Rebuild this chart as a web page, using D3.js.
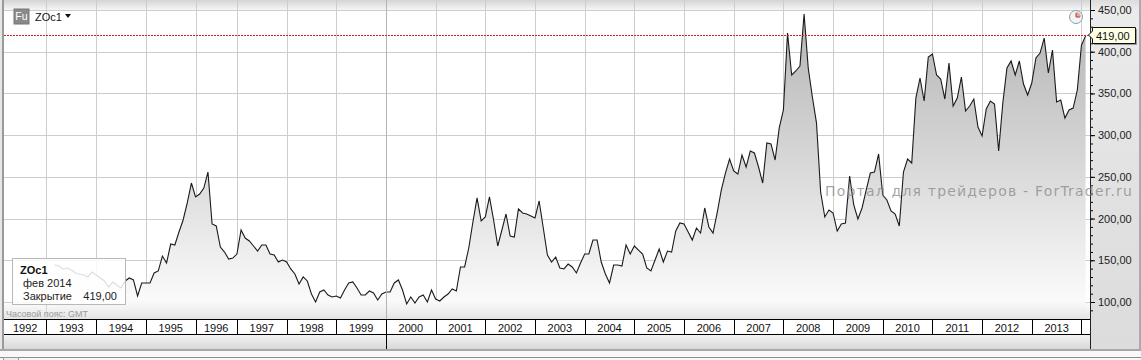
<!DOCTYPE html>
<html>
<head>
<meta charset="utf-8">
<script src="https://cdn.jsdelivr.net/npm/d3@7"></script>
<style>
  html, body { margin: 0; padding: 0; background: #fff; overflow: hidden; }
  text { font-family: "Liberation Sans", sans-serif; }
</style>
</head>
<body>
<div id="chart"></div>
<script>
// year labels on the bottom strip
const years = [1992, 1993, 1994, 1995, 1996, 1997, 1998, 1999, 2000, 2001, 2002,
  2003, 2004, 2005, 2006, 2007, 2008, 2009, 2010, 2011, 2012, 2013];
const priceTicks = [100, 150, 200, 250, 300, 350, 400, 450];
const minorTicks = d3.range(90, 460, 10);
const lastClose = 419;

// monthly closes, March 1993 to February 2014
const closes1993 = [144.3, 143.1, 139.6, 140.8, 138.4, 134.8, 133.6, 132.4, 130, 136];
const closes1994 = [132.4, 128.8, 125.2, 118, 124, 120.4, 116.8, 125.2, 128.8, 126.4, 107.2, 122.8];
const closes1995 = [122.8, 122.8, 134.8, 137.2, 155.1, 146.7, 169.5, 168.3, 183.9, 198.3, 218.7, 242.6];
const closes1996 = [225.9, 229.4, 236.6, 255.8, 193.5, 191.1, 165.9, 159.9, 151.5, 152.7];
const closes1997 = [157.5, 186.3, 176.7, 173.1, 167.1, 161.1, 168.3, 168.3, 157.5, 156.3, 147.9, 150.3];
const closes1998 = [147.9, 139.6, 133.6, 121.6, 130, 125.2, 109.6, 100, 112, 114.4, 108.4, 106];
const closes1999 = [107.2, 104.8, 114.4, 122.8, 124, 116.8, 108.4, 108.4, 113.2, 110.8, 102.4, 109.6];
const closes2000 = [112, 112, 122.8, 126.4, 114.4, 97.6, 106, 98.8, 106, 108.4, 100, 114.4];
const closes2001 = [103.6, 101.2, 106, 109.6, 115.6, 113.2, 142, 142, 164.7, 195.9, 224.7, 197.1];
const closes2002 = [201.9, 225.9, 198.3, 167.1, 186.3, 205.5, 179.1, 177.9, 211.5, 206.7, 205.5, 203.1];
const closes2003 = [200.7, 221.1, 188.7, 156.3, 147.9, 153.9, 140.8, 139.6, 145.5, 142, 134.8, 146.7];
const closes2004 = [157.5, 157.5, 174.3, 174.3, 147.9, 133.6, 122.8, 144.3, 144.3, 143.1, 168.3, 157.5];
const closes2005 = [167.1, 162.3, 157.5, 140.8, 137.2, 150.3, 163.5, 147.9, 161.1, 159.9, 185.1, 194.7];
const closes2006 = [193.5, 183.9, 174.3, 188.7, 182.7, 212.7, 189.9, 182.7, 206.7, 234.2, 254.6, 271.4];
const closes2007 = [257, 253.4, 276.2, 261.8, 281, 278.6, 261.8, 242.6, 290.6, 289.4, 270.2, 308.6];
const closes2008 = [330.1, 422.4, 372.1, 376.9, 382.9, 445.2, 380.5, 345.7, 314.5, 231.8, 201.9, 210.3];
const closes2009 = [206.7, 185.1, 193.5, 194.7, 251, 216.3, 199.5, 212.7, 234.2, 254.6, 255.8, 277.4];
const closes2010 = [228.2, 222.3, 209.1, 205.5, 191.1, 255.8, 271.4, 266.6, 344.5, 368.5, 340.9, 393.7];
const closes2011 = [397.3, 372.1, 367.3, 343.3, 386.5, 334.9, 344.5, 369.7, 328.9, 334.9, 343.3, 309.8];
const closes2012 = [299, 331.3, 340.9, 337.3, 281, 338.5, 380.5, 388.9, 372.1, 388.9, 361.3, 348.1];
const closes2013 = [362.5, 392.5, 398.4, 416.4, 374.5, 402, 339.7, 342.1, 320.5, 330.1, 332.5, 354.1];
const closes2014 = [408, 419];

const closes = [].concat(closes1993, closes1994, closes1995, closes1996, closes1997, closes1998,
  closes1999, closes2000, closes2001, closes2002, closes2003, closes2004, closes2005, closes2006,
  closes2007, closes2008, closes2009, closes2010, closes2011, closes2012, closes2013, closes2014);

// the feed starts in March 1992 and skips the last two months of 1996
const months = [];
years.concat([2014]).forEach(y => {
  const first = y === 1992 ? 3 : 1;
  const last = y === 1996 ? 10 : y === 2014 ? 2 : 12;
  for (let m = first; m <= last; m++) months.push(y + "-" + m);
});
const closeMonths = months.slice(months.indexOf("1993-3"));
const series = closes.map((c, i) => ({ month: closeMonths[i], close: c }));
const yearStarts = years.slice(1).concat([2014]).map(y => y + "-1");

const width = 1141, height = 360;
const plot = { left: 4, right: 1090, top: 9, bottom: 320 };

const svg = d3.select("#chart").append("svg")
  .attr("width", width).attr("height", height)
  .style("display", "block");

const x = d3.scalePoint().domain(months).range([5.1, 1085.6]);
const y = d3.scaleLinear().domain([100, 450]).range([302, 10]);

const defs = svg.append("defs");
function vGradient(id, y1, y2, stops) {
  const g = defs.append("linearGradient").attr("id", id)
    .attr("gradientUnits", "userSpaceOnUse")
    .attr("x1", 0).attr("x2", 0).attr("y1", y1).attr("y2", y2);
  stops.forEach(s => g.append("stop").attr("offset", s[0]).attr("stop-color", s[1]).attr("stop-opacity", s[2] === undefined ? 1 : s[2]));
}
vGradient("areaFill", 10, 320, [[0, "#b4b4b4"], [0.5, "#d8d8d8"], [1, "#ffffff"]]);
vGradient("topBand", 0, 10, [[0, "#d4d4d4"], [1, "#f6f6f6"]]);
vGradient("bottomBand", 300, 320, [[0, "#e6e6e6", 0], [1, "#e2e2e2", 1]]);
vGradient("stripFill", 334, 349, [[0, "#f4f4f4"], [1, "#d8d8d8"]]);
vGradient("axisFill", 0, 349, [[0, "#dcdcdc"], [0.03, "#ececec"], [0.5, "#e2e2e2"], [1, "#dcdcdc"]]);

// backgrounds
svg.append("rect").attr("x", plot.left).attr("y", plot.top)
  .attr("width", plot.right - plot.left).attr("height", plot.bottom - plot.top).attr("fill", "#fff");
svg.append("rect").attr("x", 0).attr("y", 0).attr("width", width).attr("height", 10).attr("fill", "url(#topBand)");
svg.append("rect").attr("x", plot.right).attr("y", 0)
  .attr("width", width - plot.right).attr("height", 349).attr("fill", "url(#axisFill)");

// grid
const grid = svg.append("g").attr("stroke", "#cdcdcd").attr("shape-rendering", "crispEdges");
grid.selectAll(".v").data(yearStarts).enter().append("line")
  .attr("x1", d => Math.round(x(d)) + 0.5).attr("x2", d => Math.round(x(d)) + 0.5)
  .attr("y1", 0).attr("y2", plot.bottom);
grid.selectAll(".h").data(priceTicks).enter().append("line")
  .attr("x1", plot.left).attr("x2", plot.right)
  .attr("y1", d => Math.round(y(d)) + 0.5).attr("y2", d => Math.round(y(d)) + 0.5);

// area and line
const area = d3.area().x(d => x(d.month)).y0(plot.bottom).y1(d => y(d.close));
const line = d3.line().x(d => x(d.month)).y(d => y(d.close));
svg.append("path").datum(series).attr("d", area).attr("fill", "url(#areaFill)");
svg.append("rect").attr("x", plot.left).attr("y", 300)
  .attr("width", plot.right - plot.left).attr("height", 20).attr("fill", "url(#bottomBand)");
svg.append("path").datum(series).attr("d", line)
  .attr("fill", "none").attr("stroke", "#1a1a1a").attr("stroke-width", 1.1);

// crosshair at the start of 2000
svg.append("line").attr("x1", Math.round(x("2000-1")) + 0.5).attr("x2", Math.round(x("2000-1")) + 0.5)
  .attr("y1", 0).attr("y2", plot.bottom).attr("stroke", "#b4b4b4").attr("shape-rendering", "crispEdges");

// last price line
svg.append("line").attr("x1", plot.left).attr("x2", plot.right)
  .attr("y1", 35.5).attr("y2", 35.5)
  .attr("stroke", "#d02020").attr("stroke-dasharray", "2,1").attr("shape-rendering", "crispEdges");

// right axis
const fmt = v => d3.format(".2f")(v).replace(".", ",");
const axisMinor = d3.axisRight(y).tickValues(minorTicks).tickSize(3).tickFormat("");
const axisMajor = d3.axisRight(y).tickValues(priceTicks).tickSize(5).tickPadding(3).tickFormat(fmt);
const ga = svg.append("g").attr("transform", `translate(${plot.right},0)`);
ga.call(axisMinor);
ga.select(".domain").remove();
const gb = svg.append("g").attr("transform", `translate(${plot.right},0)`).call(axisMajor);
gb.select(".domain").remove();
gb.selectAll("text").attr("font-size", 11).attr("fill", "#222");
svg.append("line").attr("x1", plot.right + 0.5).attr("x2", plot.right + 0.5).attr("y1", 0).attr("y2", 349)
  .attr("stroke", "#222").attr("shape-rendering", "crispEdges");

// year strip
svg.append("rect").attr("x", plot.left).attr("y", 320).attr("width", plot.right - plot.left).attr("height", 14).attr("fill", "#fff");
svg.append("rect").attr("x", plot.left).attr("y", 334).attr("width", plot.right - plot.left).attr("height", 15).attr("fill", "url(#stripFill)");
const strip = svg.append("g").attr("stroke", "#000").attr("shape-rendering", "crispEdges");
strip.append("line").attr("x1", plot.left).attr("x2", plot.right).attr("y1", 319.5).attr("y2", 319.5);
strip.append("line").attr("x1", plot.left).attr("x2", plot.right).attr("y1", 334.5).attr("y2", 334.5);
strip.selectAll(".tick").data(yearStarts).enter().append("line")
  .attr("x1", d => Math.round(x(d)) + 0.5).attr("x2", d => Math.round(x(d)) + 0.5)
  .attr("y1", 320).attr("y2", 334);
strip.append("line").attr("x1", Math.round(x("2000-1")) + 0.5).attr("x2", Math.round(x("2000-1")) + 0.5)
  .attr("y1", 334).attr("y2", 349);
svg.append("g").selectAll("text").data(years).enter().append("text")
  .attr("x", d => {
    const end = x((d + 1) + "-1");
    const start = d === 1992 ? plot.left : x(d + "-1");
    return (start + end) / 2;
  })
  .attr("y", 331.5).attr("text-anchor", "middle").attr("font-size", 11).attr("fill", "#111").text(d => d);

// window frame
svg.append("rect").attr("x", 0).attr("y", 0).attr("width", 2).attr("height", 351).attr("fill", "#e6e6e6");
svg.append("rect").attr("x", 2).attr("y", 0).attr("width", 2).attr("height", 351).attr("fill", "#9a9a9a");
svg.append("rect").attr("x", 1139).attr("y", 0).attr("width", 2).attr("height", 351).attr("fill", "#ababab");
svg.append("rect").attr("x", 0).attr("y", 349).attr("width", width).attr("height", 2).attr("fill", "#a8a8a8");
svg.append("rect").attr("x", 0).attr("y", 351).attr("width", width).attr("height", 9).attr("fill", "#f8f8f8");
svg.append("rect").attr("x", 0).attr("y", 357).attr("width", width).attr("height", 1).attr("fill", "#8c8c8c");
svg.append("rect").attr("x", 3.5).attr("y", 357.5).attr("width", 15).attr("height", 6).attr("fill", "#eee").attr("stroke", "#999");

// symbol badge
svg.append("rect").attr("x", 14).attr("y", 9).attr("width", 15).attr("height", 15).attr("fill", "#8a8a8a").attr("stroke", "#777");
svg.append("text").attr("x", 21.5).attr("y", 20).attr("text-anchor", "middle").attr("font-size", 10.5).attr("fill", "#fff").text("Fu");
svg.append("text").attr("x", 35).attr("y", 21).attr("font-size", 11).attr("fill", "#111").text("ZOc1");
svg.append("path").attr("d", d3.line()([[65, 14], [71, 14], [68, 18]])).attr("fill", "#111");

// clock icon
const clock = svg.append("g").attr("transform", "translate(1076,17)");
clock.append("circle").attr("r", 6.5).attr("fill", "#f4f4f4").attr("stroke", "#7f9fb5");
clock.append("path").attr("d", d3.arc()({ innerRadius: 0, outerRadius: 5, startAngle: 0, endAngle: Math.PI / 2 })).attr("fill", "#e6a898");
clock.append("line").attr("x2", 0).attr("y2", -4).attr("stroke", "#b04030");
clock.append("line").attr("x2", 4).attr("y2", 0).attr("stroke", "#b04030");

// price flag
svg.append("rect").attr("x", 1094).attr("y", 29).attr("width", 43).attr("height", 16).attr("fill", "#999");
svg.append("path").attr("d", d3.line()([[1088.5, 35], [1092.5, 31], [1092.5, 27.5], [1135.5, 27.5], [1135.5, 43.5], [1092.5, 43.5], [1092.5, 39]]) + "Z")
  .attr("fill", "#ffffe6").attr("stroke", "#111");
svg.append("text").attr("x", 1096).attr("y", 39.5).attr("font-size", 11).attr("fill", "#111").text(fmt(lastClose));

// watermark
svg.append("text").attr("x", 825).attr("y", 196).style("font-family", '"DejaVu Sans", sans-serif').attr("font-size", 14).attr("letter-spacing", 1.2)
  .attr("fill", "#888").attr("fill-opacity", 0.75).text("Портал для трейдеров - ForTrader.ru");

// tooltip card
svg.append("rect").attr("x", 12.5).attr("y", 258.5).attr("width", 113).attr("height", 46)
  .attr("fill", "#fff").attr("fill-opacity", 0.85).attr("stroke", "#b8b8b8").attr("shape-rendering", "crispEdges");
svg.append("text").attr("x", 20).attr("y", 274).attr("font-size", 11).attr("font-weight", "bold").attr("fill", "#111").text("ZOc1");
svg.append("text").attr("x", 23).attr("y", 287).attr("font-size", 11).attr("fill", "#222").text("фев 2014");
svg.append("text").attr("x", 23).attr("y", 300).attr("font-size", 11).attr("fill", "#222").text("Закрытие");
svg.append("text").attr("x", 117).attr("y", 300).attr("text-anchor", "end").attr("font-size", 11).attr("fill", "#222").text(fmt(lastClose));

svg.append("text").attr("x", 6).attr("y", 317).attr("font-size", 9).attr("fill", "#9a9a9a").text("Часовой пояс: GMT");
</script>
</body>
</html>
